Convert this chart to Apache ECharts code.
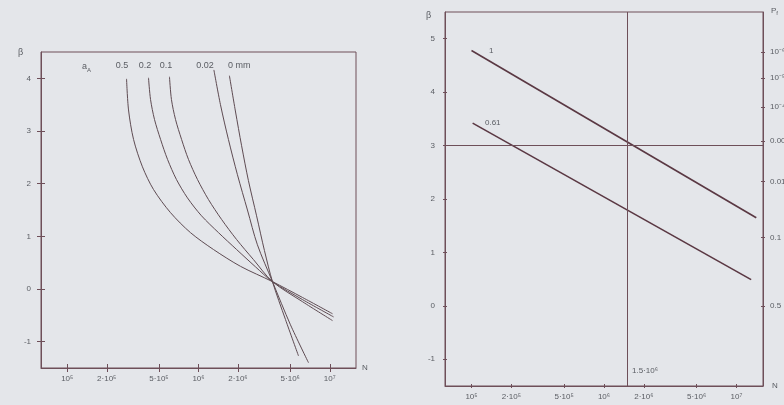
<!DOCTYPE html>
<html>
<head>
<meta charset="utf-8">
<script src="https://cdn.jsdelivr.net/npm/echarts@6/dist/echarts.min.js"></script>
<style>
  html, body { margin: 0; padding: 0; background: #e4e6ea; }
  #chart { width: 784px; height: 405px; }
</style>
</head>
<body>
<div id="chart"></div>
<script>
// ---- Left panel: reliability index β vs. number of cycles N, per initial crack depth a_A ----
const crackLabels = ['0.5', '0.2', '0.1', '0.02', '0 mm'];

const curve05N  = [2.83e5, 2.93e5, 3.20e5, 3.74e5, 4.54e5, 6.12e5, 8.69e5, 1.30e6,
                   2.09e6, 3.66e6, 6.19e6, 1.05e7];
const curve05B  = [3.99, 3.40, 2.84, 2.32, 1.89, 1.45, 1.07, 0.75,
                   0.43, 0.14, -0.16, -0.47];

const curve02N  = [4.16e5, 4.31e5, 4.62e5, 5.14e5, 5.81e5, 6.79e5, 8.24e5, 1.054e6, 1.42e6,
                   1.95e6, 2.72e6, 3.66e6, 6.19e6, 1.07e7];
const curve02B  = [4.01, 3.60, 3.22, 2.84, 2.46, 2.08, 1.73, 1.39, 1.07,
                   0.75, 0.42, 0.14, -0.20, -0.53];

const curve01N  = [6.01e5, 6.22e5, 6.68e5, 7.43e5, 8.39e5, 9.82e5, 1.19e6, 1.50e6, 1.95e6,
                   2.62e6, 3.66e6, 6.19e6, 1.05e7];
const curve01B  = [4.03, 3.60, 3.22, 2.84, 2.46, 2.08, 1.70, 1.32, 0.94,
                   0.56, 0.14, -0.24, -0.60];

const curve002N = [1.31e6, 1.47e6, 1.69e6, 1.98e6, 2.36e6, 2.81e6, 3.66e6, 5.02e6, 6.89e6];
const curve002B = [4.16, 3.50, 2.84, 2.17, 1.50, 0.84, 0.14, -0.68, -1.40];

const curve0N   = [1.72e6, 1.91e6, 2.13e6, 2.40e6, 2.77e6, 3.18e6, 3.66e6, 4.60e6, 5.78e6];
const curve0B   = [4.05, 3.38, 2.72, 2.06, 1.39, 0.73, 0.14, -0.58, -1.27];

// ---- Right panel: straight β lines for two cases ----
const lineLabels = ['1', '0.61'];
const line1N   = [1.0e5, 1.41e7];
const line1B   = [4.78, 1.65];
const line061N = [1.02e5, 1.29e7];
const line061B = [3.42, 0.49];

// reference levels drawn across the right panel
const betaTarget = 3;
const nRef = 1.5e6;
const nRefLabel = '1.5·10⁶';

// ---- Axis ticks ----
const nTicks  = [1e5, 2e5, 5e5, 1e6, 2e6, 5e6, 1e7];
const nLabels = ['10⁵', '2·10⁵', '5·10⁵', '10⁶', '2·10⁶', '5·10⁶', '10⁷'];
const betaTicksLeft  = [-1, 0, 1, 2, 3, 4];
const betaTicksRight = [-1, 0, 1, 2, 3, 4, 5];
// failure probability scale: β positions of P_f = Φ(-β)
const pfBeta   = [4.753, 4.265, 3.719, 3.090, 2.326, 1.282, 0];
const pfLabels = ['10⁻⁶', '10⁻⁵', '10⁻⁴', '0.001', '0.01', '0.1', '0.5'];

// ---- Styling ----
const frameColor = '#6e4f59';
const curveColor = '#5e4b52';
const lineColor  = '#5a3843';
const textColor  = '#5a5d63';
const font = 'Liberation Sans';

const zip = (xs, ys) => xs.map((x, i) => [x, ys[i]]);

function nFormatter(v) {
  let best = 0, bestD = Infinity;
  nTicks.forEach((t, i) => {
    const d = Math.abs(Math.log10(t) - Math.log10(v));
    if (d < bestD) { bestD = d; best = i; }
  });
  return nLabels[best];
}

function pfFormatter(v) {
  let best = 0, bestD = Infinity;
  pfBeta.forEach((t, i) => {
    const d = Math.abs(t - v);
    if (d < bestD) { bestD = d; best = i; }
  });
  return pfLabels[best];
}

const labelStyle = { color: textColor, fontFamily: font, fontSize: 8 };

function xAxisPair(grid, tickLen, withLabels) {
  const common = {
    gridIndex: grid, type: 'log', position: 'bottom',
    min: Math.pow(10, 4.8), max: Math.pow(10, 7.2),
    splitLine: { show: false }, minorTick: { show: false }
  };
  return [
    Object.assign({}, common, {
      axisLine: { show: true, onZero: false, lineStyle: { color: frameColor, width: 1 } },
      axisTick: { show: true, inside: false, length: tickLen, customValues: nTicks,
                  lineStyle: { color: frameColor, width: 1 } },
      axisLabel: Object.assign({ show: withLabels, margin: 7, customValues: nTicks,
                  formatter: nFormatter }, labelStyle),
      name: 'N', nameLocation: 'end', nameGap: grid === 0 ? 6 : 9,
      nameTextStyle: { color: textColor, fontFamily: font, fontSize: 8,
                       verticalAlign: 'middle', align: 'left' }
    }),
    Object.assign({}, common, {
      axisLine: { show: false, onZero: false },
      axisTick: { show: true, inside: true, length: tickLen, customValues: nTicks,
                  lineStyle: { color: frameColor, width: 1 } },
      axisLabel: { show: false }
    })
  ];
}

function yAxisPair(grid, position, min, max, ticks, tickLen, formatter, margin) {
  const common = {
    gridIndex: grid, type: 'value', position: position, min: min, max: max,
    splitLine: { show: false }
  };
  return [
    Object.assign({}, common, {
      axisLine: { show: true, onZero: false, lineStyle: { color: frameColor, width: 1 } },
      axisTick: { show: true, inside: false, length: tickLen, customValues: ticks,
                  lineStyle: { color: frameColor, width: 1 } },
      axisLabel: Object.assign({ show: true, margin: margin, customValues: ticks,
                  formatter: formatter }, labelStyle)
    }),
    Object.assign({}, common, {
      axisLine: { show: false, onZero: false },
      axisTick: { show: true, inside: true, length: tickLen, customValues: ticks,
                  lineStyle: { color: frameColor, width: 1 } },
      axisLabel: { show: false }
    })
  ];
}

const intFmt = v => String(Math.round(v));

const xAxes = [].concat(xAxisPair(0, 4, true), xAxisPair(1, 2, true));
const yAxes = [].concat(
  yAxisPair(0, 'left', -1.5, 4.5, betaTicksLeft, 4, intFmt, 10),
  yAxisPair(1, 'left', -1.5, 5.5, betaTicksRight, 2, intFmt, 10),
  yAxisPair(1, 'right', -1.5, 5.5, pfBeta, 2, pfFormatter, 7)
);

function curveSeries(name, xs, ys) {
  return {
    name: name, type: 'line', xAxisIndex: 0, yAxisIndex: 0,
    data: zip(xs, ys), smooth: 0.3, showSymbol: false, symbol: 'none',
    lineStyle: { color: curveColor, width: 1 }, silent: true, z: 3
  };
}

const series = [
  curveSeries(crackLabels[0], curve05N, curve05B),
  curveSeries(crackLabels[1], curve02N, curve02B),
  curveSeries(crackLabels[2], curve01N, curve01B),
  curveSeries(crackLabels[3], curve002N, curve002B),
  curveSeries(crackLabels[4], curve0N, curve0B),
  {
    name: lineLabels[0], type: 'line', xAxisIndex: 2, yAxisIndex: 2,
    data: zip(line1N, line1B), showSymbol: false, symbol: 'none',
    lineStyle: { color: lineColor, width: 1.6 }, silent: true, z: 3,
    markLine: {
      silent: true, symbol: 'none', label: { show: false },
      lineStyle: { color: frameColor, width: 1, type: 'solid' },
      data: [{ yAxis: betaTarget }, { xAxis: nRef }]
    }
  },
  {
    name: lineLabels[1], type: 'line', xAxisIndex: 2, yAxisIndex: 2,
    data: zip(line061N, line061B), showSymbol: false, symbol: 'none',
    lineStyle: { color: lineColor, width: 1.6 }, silent: true, z: 3
  }
];

const txt = (x, y, text, extra) => ({
  type: 'text', x: x, y: y, silent: true,
  style: Object.assign({ text: text, fill: textColor, font: '8px "' + font + '"',
                         align: 'left', verticalAlign: 'middle' }, extra || {})
});

const graphics = [
  txt(18, 53, 'β', { font: '9px "' + font + '"' }),
  txt(426, 16, 'β', { font: '9px "' + font + '"' }),
  // crack depth header of the left panel
  {
    type: 'text', x: 82, y: 67, silent: true,
    style: { text: '{m|a}{s|A}', align: 'left', verticalAlign: 'middle',
             rich: { m: { fill: textColor, fontFamily: font, fontSize: 9 },
                     s: { fill: textColor, fontFamily: font, fontSize: 6, padding: [6, 0, 0, 0] } } }
  },
  txt(122, 66, crackLabels[0], { align: 'center', font: '9px "' + font + '"' }),
  txt(145, 66, crackLabels[1], { align: 'center', font: '9px "' + font + '"' }),
  txt(166, 66, crackLabels[2], { align: 'center', font: '9px "' + font + '"' }),
  txt(205, 66, crackLabels[3], { align: 'center', font: '9px "' + font + '"' }),
  txt(228, 66, crackLabels[4], { align: 'left', font: '9px "' + font + '"' }),
  // right panel annotations
  txt(489, 51, lineLabels[0]),
  txt(485, 123, lineLabels[1]),
  txt(632, 371, nRefLabel),
  {
    type: 'text', x: 771, y: 11, silent: true,
    style: { text: '{m|P}{s|f}', align: 'left', verticalAlign: 'middle',
             rich: { m: { fill: textColor, fontFamily: font, fontSize: 8 },
                     s: { fill: textColor, fontFamily: font, fontSize: 6, padding: [5, 0, 0, 0] } } }
  }
];

const chart = echarts.init(document.getElementById('chart'), null, { renderer: 'canvas' });
chart.setOption({
  backgroundColor: '#e4e6ea',
  animation: false,
  grid: [
    { left: 41, top: 52, width: 315, height: 316, show: true, borderColor: frameColor,
      borderWidth: 1, backgroundColor: 'transparent', containLabel: false, outerBoundsMode: 'none' },
    { left: 445, top: 12, width: 318, height: 374, show: true, borderColor: frameColor,
      borderWidth: 1, backgroundColor: 'transparent', containLabel: false, outerBoundsMode: 'none' }
  ],
  xAxis: xAxes,
  yAxis: yAxes,
  series: series,
  graphic: graphics
});
</script>
</body>
</html>
